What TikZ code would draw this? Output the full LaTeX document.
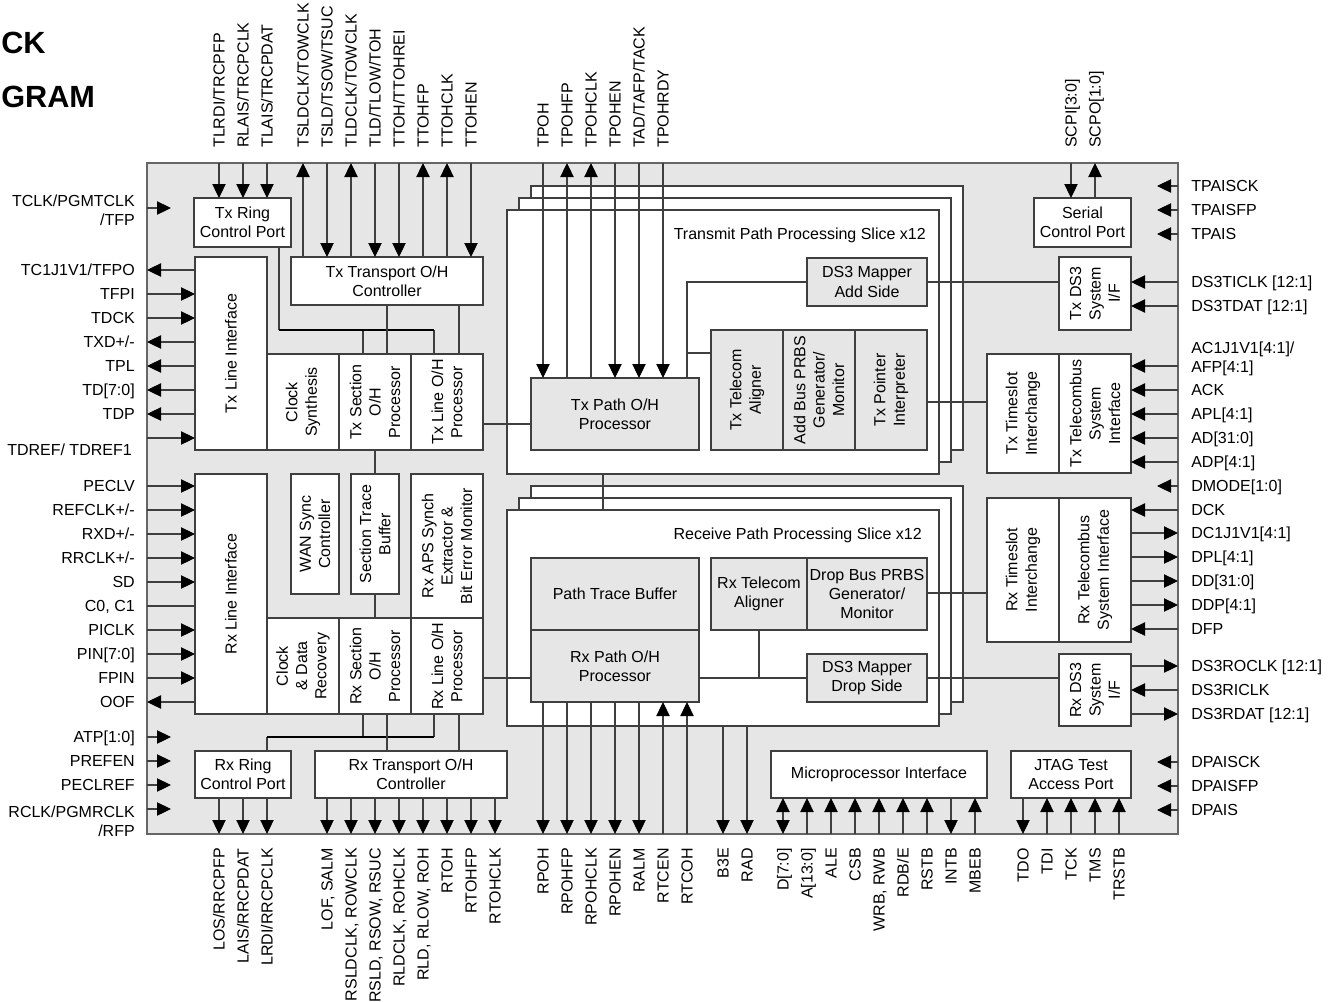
\documentclass[tikz,border=0pt]{standalone}
\usepackage{fontspec}
\setmainfont{Liberation Sans}
\usetikzlibrary{arrows.meta}
\definecolor{bg}{HTML}{E6E6E6}
\definecolor{ln}{HTML}{3F3F3F}
\newcommand\mkblk[7][]{\node[box,#1,minimum width={(#5-#3)*0.75pt},minimum height={(#6-#4)*0.75pt}] (#2) at ({(#3+#5)/2},{(#4+#6)/2}) {#7};}
\tikzset{
 every node/.style={font=\fontsize{12}{14.5}\selectfont},
 box/.style={draw=ln, line width=0.8pt, fill=white, inner sep=0pt, outer sep=0pt, align=center},
 gbox/.style={fill=bg},
 sig/.style={draw=ln, line width=0.8pt},
 thk/.style={draw=black, line width=1.6pt},
 arrE/.style={-{Triangle[length=10.5pt,width=10pt,color=black]}},
 arrB/.style={{Triangle[length=10.5pt,width=10pt,color=black]}-{Triangle[length=10.5pt,width=10pt,color=black]}},
 toplab/.style={rotate=90, anchor=base west, inner sep=0pt},
 botlab/.style={rotate=90, anchor=base east, inner sep=0pt},
 llab/.style={anchor=base east, inner sep=0pt},
 rlab/.style={anchor=base west, inner sep=0pt},
 vt/.style={rotate=90, align=center, inner sep=0pt},
 ttl/.style={font=\fontsize{23}{28}\selectfont\bfseries, anchor=base west, inner sep=0pt},
}
\begin{document}
\begin{tikzpicture}[x=0.75pt,y=-0.75pt]
\useasboundingbox (0,0) rectangle (1336,1001);
% title
\node[ttl] (ttl1) at (1,53) {CK};
\node[ttl] (ttl2) at (1,107) {GRAM};
% chip
\mkblk[fill=bg,draw=black!60,line width=1pt]{chip}{147}{163}{1178}{834}{}
% slices
\mkblk{txs3}{531}{186}{963}{450}{}
\mkblk{txs2}{519}{198}{951}{462}{}
\mkblk{txs1}{507}{210}{939}{474}{}
\mkblk{rxs3}{531}{486}{963}{702}{}
\mkblk{rxs2}{519}{498}{951}{714}{}
\mkblk{rxs1}{507}{510}{939}{726}{}
\node[anchor=base east, inner sep=0pt] (txsl) at (926,239) {Transmit Path Processing Slice x12};
\node[anchor=base east, inner sep=0pt] (rxsl) at (922,539) {Receive Path Processing Slice x12};
% blocks
\mkblk{txr}{194}{198}{291}{247}{Tx Ring\\Control Port}
\mkblk{txtr}{291}{257}{483}{305}{Tx Transport O/H\\Controller}
\mkblk{txli}{195}{257}{267}{450}{}
\mkblk{txcs}{267}{354}{339}{450}{}
\mkblk{txso}{339}{354}{411}{450}{}
\mkblk{txlo}{411}{354}{483}{450}{}
\mkblk{wan}{291}{474}{339}{594}{}
\mkblk{stb}{351}{474}{399}{594}{}
\mkblk{aps}{411}{474}{483}{618}{}
\mkblk{rxli}{195}{474}{267}{714}{}
\mkblk{cdr}{267}{618}{339}{714}{}
\mkblk{rxso}{339}{618}{411}{714}{}
\mkblk{rxlo}{411}{618}{483}{714}{}
\mkblk{rxr}{195}{751}{291}{798}{Rx Ring\\Control Port}
\mkblk{rxtr}{315}{751}{507}{798}{Rx Transport O/H\\Controller}
\mkblk[gbox]{txpoh}{531}{378}{699}{450}{Tx Path O/H\\Processor}
\mkblk[gbox]{ds3a}{807}{258}{927}{306}{DS3 Mapper\\Add Side}
\mkblk[gbox]{txta}{711}{330}{783}{450}{}
\mkblk[gbox]{abp}{783}{330}{855}{450}{}
\mkblk[gbox]{txpi}{855}{330}{927}{450}{}
\mkblk[gbox]{ptb}{531}{558}{699}{630}{Path Trace Buffer}
\mkblk[gbox]{rxpoh}{531}{630}{699}{702}{Rx Path O/H\\Processor}
\mkblk[gbox]{rxta}{711}{558}{807}{630}{Rx Telecom\\Aligner}
\mkblk[gbox]{dbp}{807}{558}{927}{630}{Drop Bus PRBS\\Generator/\\Monitor}
\mkblk[gbox]{ds3d}{807}{654}{927}{702}{DS3 Mapper\\Drop Side}
\mkblk{scp}{1034}{198}{1131}{247}{Serial\\Control Port}
\mkblk{txds3}{1059}{257}{1131}{330}{}
\mkblk{txtsi}{987}{354}{1059}{473}{}
\mkblk{txtbi}{1059}{354}{1131}{473}{}
\mkblk{rxtsi}{987}{498}{1059}{642}{}
\mkblk{rxtbi}{1059}{498}{1131}{642}{}
\mkblk{rxds3}{1059}{654}{1131}{726}{}
\mkblk{mpi}{771}{751}{987}{798}{Microprocessor Interface}
\mkblk{jtag}{1011}{751}{1131}{798}{JTAG Test\\Access Port}
% vertical texts
\node[vt] (t-txli) at (txli) {Tx Line Interface};
\node[vt] (t-txcs) at (txcs) {Clock\\Synthesis};
\node[vt] (t-txso) at (txso) {Tx Section\\O/H\\Processor};
\node[vt] (t-txlo) at (txlo) {Tx Line O/H\\Processor};
\node[vt] (t-wan) at (wan) {WAN Sync\\Controller};
\node[vt] (t-stb) at (stb) {Section Trace\\Buffer};
\node[vt] (t-aps) at (aps) {Rx APS Synch\\Extractor \&\\Bit Error Monitor};
\node[vt] (t-rxli) at (rxli) {Rx Line Interface};
\node[vt] (t-cdr) at (cdr) {Clock\\\& Data\\Recovery};
\node[vt] (t-rxso) at (rxso) {Rx Section\\O/H\\Processor};
\node[vt] (t-rxlo) at (rxlo) {Rx Line O/H\\Processor};
\node[vt] (t-txta) at (txta) {Tx Telecom\\Aligner};
\node[vt] (t-abp) at (abp) {Add Bus PRBS\\Generator/\\Monitor};
\node[vt] (t-txpi) at (txpi) {Tx Pointer\\Interpreter};
\node[vt] (t-txds3) at (txds3) {Tx DS3\\System\\I/F};
\node[vt] (t-txtsi) at (txtsi) {Tx Timeslot\\Interchange};
\node[vt] (t-txtbi) at (txtbi) {Tx Telecombus\\System\\Interface};
\node[vt] (t-rxtsi) at (rxtsi) {Rx Timeslot\\Interchange};
\node[vt] (t-rxtbi) at (rxtbi) {Rx Telecombus\\System Interface};
\node[vt] (t-rxds3) at (rxds3) {Rx DS3\\System\\I/F};
% internal connections
\coordinate (j1) at (279,330);
\coordinate (j2) at (434,330);
\draw[sig] (txr.south -| j1) -- (j1);
\draw[sig] (j2) -- (txlo.north -| j2);
\draw[sig] (363,330) -- (txso.north -| 363,0);
\draw[thk] (j1) -- (j2);
\draw[sig] (txtr.south -| 387,0) -- (txso.north -| 387,0);
\draw[sig] (txtr.south -| 459,0) -- (txlo.north -| 459,0);
\draw[sig] (txso.south -| 375,0) -- (stb.north -| 375,0);
\draw[sig] (stb.south -| 375,0) -- (rxso.north -| 375,0);
\coordinate (j3) at (267,737);
\coordinate (j4) at (434,737);
\draw[sig] (rxso.south -| 363,0) -- (363,737);
\draw[sig] (rxlo.south -| j4) -- (j4);
\draw[sig] (j3) -- (rxr.north -| j3);
\draw[thk] (j3) -- (j4);
\draw[sig] (rxso.south -| 387,0) -- (rxtr.north -| 387,0);
\draw[sig] (rxlo.south -| 459,0) -- (rxtr.north -| 459,0);
\draw[sig] (txlo.east |- 0,424) -- (txpoh.west |- 0,424);
\draw[sig] (rxlo.east |- 0,678) -- (rxpoh.west |- 0,678);
\coordinate (j5) at (687,282);
\draw[sig] (ds3a.west |- j5) -- (j5) -- (txpoh.north -| j5);
\draw[sig] (687,353) -- (txta.west |- 0,353);
\draw[sig] (ds3a.east |- 0,282) -- (txds3.west |- 0,282);
\draw[sig] (txpi.east |- 0,402) -- (txtsi.west |- 0,402);
\draw[sig] (txs1.south -| 603,0) -- (rxs1.north -| 603,0);
\draw[sig] (dbp.east |- 0,593) -- (rxtsi.west |- 0,593);
\draw[sig] (rxpoh.east |- 0,678) -- (ds3d.west |- 0,678);
\draw[sig] (rxta.south -| 759,0) -- (759,678);
\draw[sig] (ds3d.east |- 0,678) -- (rxds3.west |- 0,678);
% top signals
\foreach \x/\t in {219/{TLRDI/TRCPFP},243/{RLAIS/TRCPCLK},267/{TLAIS/TRCPDAT}}{
 \draw[sig,arrE] (chip.north -| \x,0) -- (txr.north -| \x,0);
 \node[toplab] (tl\x) at ({\x+5.7},148) {\t};}
\foreach \x/\t in {327/{TSLD/TSOW/TSUC},375/{TLD/TLOW/TOH},399/{TTOH/TTOHREI},471/TTOHEN}{
 \draw[sig,arrE] (chip.north -| \x,0) -- (txtr.north -| \x,0);
 \node[toplab] (tl\x) at ({\x+5.7},148) {\t};}
\foreach \x/\t in {303/{TSLDCLK/TOWCLK},351/{TLDCLK/TOWCLK},423/TTOHFP,447/TTOHCLK}{
 \draw[sig,arrE] (txtr.north -| \x,0) -- (chip.north -| \x,0);
 \node[toplab] (tl\x) at ({\x+5.7},148) {\t};}
\foreach \x/\t in {543/TPOH,615/TPOHEN,639/{TAD/TAFP/TACK},663/TPOHRDY}{
 \draw[sig,arrE] (chip.north -| \x,0) -- (txpoh.north -| \x,0);
 \node[toplab] (tl\x) at ({\x+5.7},148) {\t};}
\foreach \x/\t in {567/TPOHFP,591/TPOHCLK}{
 \draw[sig,arrE] (txpoh.north -| \x,0) -- (chip.north -| \x,0);
 \node[toplab] (tl\x) at ({\x+5.7},148) {\t};}
\draw[sig,arrE] (chip.north -| 1071,0) -- (scp.north -| 1071,0);
\node[toplab] (tl1071) at (1076.7,148) {SCPI[3:0]};
\draw[sig,arrE] (scp.north -| 1095,0) -- (chip.north -| 1095,0);
\node[toplab] (tl1095) at (1100.7,148) {SCPO[1:0]};
% bottom signals
\foreach \x/\t in {219/{LOS/RRCPFP},243/{LAIS/RRCPDAT},267/{LRDI/RRCPCLK}}{
 \draw[sig,arrE] (rxr.south -| \x,0) -- (chip.south -| \x,0);
 \node[botlab] (bl\x) at ({\x+5.7},848) {\t};}
\foreach \x/\t in {327/{LOF, SALM},351/{RSLDCLK, ROWCLK},375/{RSLD, RSOW, RSUC},399/{RLDCLK, ROHCLK},423/{RLD, RLOW, ROH},447/RTOH,471/RTOHFP,495/RTOHCLK}{
 \draw[sig,arrE] (rxtr.south -| \x,0) -- (chip.south -| \x,0);
 \node[botlab] (bl\x) at ({\x+5.7},848) {\t};}
\foreach \x/\t in {543/RPOH,567/RPOHFP,591/RPOHCLK,615/RPOHEN,639/RALM}{
 \draw[sig,arrE] (rxpoh.south -| \x,0) -- (chip.south -| \x,0);
 \node[botlab] (bl\x) at ({\x+5.7},848) {\t};}
\foreach \x/\t in {663/RTCEN,687/RTCOH}{
 \draw[sig,arrE] (chip.south -| \x,0) -- (rxpoh.south -| \x,0);
 \node[botlab] (bl\x) at ({\x+5.7},848) {\t};}
\foreach \x/\t in {723/B3E,747/RAD}{
 \draw[sig,arrE] (rxs1.south -| \x,0) -- (chip.south -| \x,0);
 \node[botlab] (bl\x) at ({\x+5.7},848) {\t};}
\draw[sig,arrB] (mpi.south -| 783,0) -- (chip.south -| 783,0);
\node[botlab] (bl783) at (788.7,848) {D[7:0]};
\foreach \x/\t in {807/{A[13:0]},831/ALE,855/CSB,879/{WRB, RWB},903/{RDB/E},927/RSTB,975/MBEB}{
 \draw[sig,arrE] (chip.south -| \x,0) -- (mpi.south -| \x,0);
 \node[botlab] (bl\x) at ({\x+5.7},848) {\t};}
\draw[sig,arrE] (mpi.south -| 951,0) -- (chip.south -| 951,0);
\node[botlab] (bl951) at (956.7,848) {INTB};
\draw[sig,arrE] (jtag.south -| 1023,0) -- (chip.south -| 1023,0);
\node[botlab] (bl1023) at (1028.7,848) {TDO};
\foreach \x/\t in {1047/TDI,1071/TCK,1095/TMS,1119/TRSTB}{
 \draw[sig,arrE] (chip.south -| \x,0) -- (jtag.south -| \x,0);
 \node[botlab] (bl\x) at ({\x+5.7},848) {\t};}
% left signals
\foreach \y/\t in {294/TFPI,318/TDCK}{
 \draw[sig,arrE] (chip.west |- 0,\y) -- (txli.west |- 0,\y);
 \node[llab] (ll\y) at (135,{\y+5.7}) {\t};}
\foreach \y/\t in {270/{TC1J1V1/TFPO},342/{TXD+/-},366/TPL,390/{TD[7:0]},414/TDP}{
 \draw[sig,arrE] (txli.west |- 0,\y) -- (chip.west |- 0,\y);
 \node[llab] (ll\y) at (135,{\y+5.7}) {\t};}
\draw[sig,arrE] (chip.west |- 0,438) -- (txli.west |- 0,438);
\node[llab] (ll438) at (132,455.7) {TDREF/ TDREF1};
\foreach \y/\t in {486/PECLV,510/{REFCLK+/-},534/{RXD+/-},558/{RRCLK+/-},582/SD,630/PICLK,654/{PIN[7:0]},678/FPIN}{
 \draw[sig,arrE] (chip.west |- 0,\y) -- (rxli.west |- 0,\y);
 \node[llab] (ll\y) at (135,{\y+5.7}) {\t};}
\draw[sig] (chip.west |- 0,606) -- (rxli.west |- 0,606);
\node[llab] (ll606) at (135,611.7) {C0, C1};
\draw[sig,arrE] (rxli.west |- 0,702) -- (chip.west |- 0,702);
\node[llab] (ll702) at (135,707.7) {OOF};
\foreach \y in {208,737,761,785,809}{
 \coordinate (sl\y) at (171,\y);
 \draw[sig,arrE] (chip.west |- sl\y) -- (sl\y);}
\node[anchor=east, align=right, inner sep=0pt] (ll208) at (135,210) {TCLK/PGMTCLK\\/TFP};
\node[llab] (ll737) at (135,742.7) {ATP[1:0]};
\node[llab] (ll761) at (135,766.7) {PREFEN};
\node[llab] (ll785) at (135,790.7) {PECLREF};
\node[anchor=east, align=right, inner sep=0pt] (ll809) at (135,821) {RCLK/PGMRCLK\\/RFP};
% right signals
\foreach \y/\t in {282/{DS3TICLK [12:1]},306/{DS3TDAT [12:1]}}{
 \draw[sig,arrE] (chip.east |- 0,\y) -- (txds3.east |- 0,\y);
 \node[rlab] (rl\y) at (1191,{\y+5.7}) {\t};}
\draw[sig,arrE] (chip.east |- 0,366) -- (txtbi.east |- 0,366);
\node[anchor=west, align=left, inner sep=0pt] (rl366) at (1191,359) {AC1J1V1[4:1]/\\AFP[4:1]};
\foreach \y/\t in {390/ACK,414/{APL[4:1]},438/{AD[31:0]},462/{ADP[4:1]}}{
 \draw[sig,arrE] (chip.east |- 0,\y) -- (txtbi.east |- 0,\y);
 \node[rlab] (rl\y) at (1191,{\y+5.7}) {\t};}
\foreach \y/\t in {510/DCK,629/DFP}{
 \draw[sig,arrE] (chip.east |- 0,\y) -- (rxtbi.east |- 0,\y);
 \node[rlab] (rl\y) at (1191,{\y+5.7}) {\t};}
\foreach \y/\t in {533/{DC1J1V1[4:1]},557/{DPL[4:1]},581/{DD[31:0]},605/{DDP[4:1]}}{
 \draw[sig,arrE] (rxtbi.east |- 0,\y) -- (chip.east |- 0,\y);
 \node[rlab] (rl\y) at (1191,{\y+5.7}) {\t};}
\foreach \y/\t in {666/{DS3ROCLK [12:1]},714/{DS3RDAT [12:1]}}{
 \draw[sig,arrE] (rxds3.east |- 0,\y) -- (chip.east |- 0,\y);
 \node[rlab] (rl\y) at (1191,{\y+5.7}) {\t};}
\draw[sig,arrE] (chip.east |- 0,690) -- (rxds3.east |- 0,690);
\node[rlab] (rl690) at (1191,695.7) {DS3RICLK};
\foreach \y/\t in {186/TPAISCK,210/TPAISFP,234/TPAIS,486/{DMODE[1:0]},762/DPAISCK,786/DPAISFP,810/DPAIS}{
 \coordinate (sr\y) at (1157,\y);
 \draw[sig,arrE] (chip.east |- sr\y) -- (sr\y);
 \node[rlab] (rl\y) at (1191,{\y+5.7}) {\t};}
\end{tikzpicture}
\end{document}
